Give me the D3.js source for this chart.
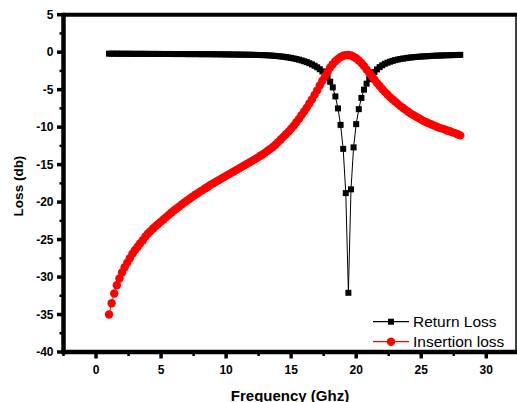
<!DOCTYPE html>
<html>
<head>
<meta charset="utf-8">
<script src="https://cdn.jsdelivr.net/npm/d3@7"></script>
<style>
    body { margin: 0; background: #fff; }
    text { font-family: Arial, "Liberation Sans", sans-serif; }
</style>
</head>
<body>
<svg width="517" height="402"></svg>
<script>
// Frequency points (GHz)
var freq = [
    1.0, 1.2, 1.4, 1.6, 1.8, 2.0, 2.2, 2.4, 2.6, 2.8,
    3.0, 3.2, 3.4, 3.6, 3.8, 4.0, 4.2, 4.4, 4.6, 4.8,
    5.0, 5.2, 5.4, 5.6, 5.8, 6.0, 6.2, 6.4, 6.6, 6.8,
    7.0, 7.2, 7.4, 7.6, 7.8, 8.0, 8.2, 8.4, 8.6, 8.8,
    9.0, 9.2, 9.4, 9.6, 9.8, 10.0, 10.2, 10.4, 10.6, 10.8,
    11.0, 11.2, 11.4, 11.6, 11.8, 12.0, 12.2, 12.4, 12.6, 12.8,
    13.0, 13.2, 13.4, 13.6, 13.8, 14.0, 14.2, 14.4, 14.6, 14.8,
    15.0, 15.2, 15.4, 15.6, 15.8, 16.0, 16.2, 16.4, 16.6, 16.8,
    17.0, 17.2, 17.4, 17.6, 17.8, 18.0, 18.2, 18.4, 18.6, 18.8,
    19.0, 19.2, 19.4, 19.6, 19.8, 20.0, 20.2, 20.4, 20.6, 20.8,
    21.0, 21.2, 21.4, 21.6, 21.8, 22.0, 22.2, 22.4, 22.6, 22.8,
    23.0, 23.2, 23.4, 23.6, 23.8, 24.0, 24.2, 24.4, 24.6, 24.8,
    25.0, 25.2, 25.4, 25.6, 25.8, 26.0, 26.2, 26.4, 26.6, 26.8,
    27.0, 27.2, 27.4, 27.6, 27.8, 28.0
];

var returnLoss = [
    -0.20, -0.20, -0.20, -0.20, -0.21, -0.21, -0.21, -0.21, -0.21, -0.22,
    -0.22, -0.22, -0.22, -0.22, -0.22, -0.23, -0.23, -0.23, -0.23, -0.23,
    -0.24, -0.24, -0.24, -0.24, -0.24, -0.25, -0.25, -0.25, -0.25, -0.25,
    -0.26, -0.26, -0.26, -0.26, -0.26, -0.27, -0.27, -0.27, -0.27, -0.27,
    -0.28, -0.28, -0.28, -0.29, -0.29, -0.30, -0.30, -0.31, -0.31, -0.32,
    -0.32, -0.33, -0.33, -0.34, -0.34, -0.35, -0.36, -0.37, -0.38, -0.39,
    -0.40, -0.42, -0.44, -0.47, -0.50, -0.53, -0.57, -0.61, -0.66, -0.71,
    -0.77, -0.84, -0.92, -1.00, -1.10, -1.21, -1.33, -1.47, -1.63, -1.81,
    -2.02, -2.27, -2.56, -2.95, -3.40, -3.95, -4.7, -5.9, -7.5, -9.7,
    -12.9, -18.8, -32.1, -18.3, -12.7, -9.6, -7.6, -6.1, -5.0, -4.2,
    -3.6, -3.1, -2.65, -2.3, -2.0, -1.75, -1.55, -1.4, -1.27, -1.16,
    -1.06, -0.98, -0.91, -0.85, -0.80, -0.75, -0.71, -0.67, -0.64, -0.61,
    -0.58, -0.56, -0.54, -0.52, -0.50, -0.48, -0.46, -0.45, -0.44, -0.42,
    -0.41, -0.40, -0.39, -0.38, -0.37, -0.36
];

var insertionLoss = [
    -35.0, -33.5, -32.2, -31.1, -30.2, -29.4, -28.7, -28.1, -27.5, -26.9,
    -26.4, -25.95, -25.5, -25.1, -24.6, -24.2, -23.85, -23.5, -23.2, -22.9,
    -22.6, -22.3, -22.0, -21.7, -21.4, -21.1, -20.85, -20.6, -20.3, -20.05,
    -19.8, -19.55, -19.3, -19.05, -18.85, -18.6, -18.4, -18.15, -17.95, -17.7,
    -17.5, -17.3, -17.1, -16.9, -16.7, -16.5, -16.3, -16.1, -15.9, -15.7,
    -15.5, -15.3, -15.1, -14.9, -14.7, -14.5, -14.3, -14.1, -13.85, -13.65,
    -13.4, -13.15, -12.9, -12.65, -12.35, -12.0, -11.65, -11.3, -10.95, -10.6,
    -10.2, -9.8, -9.35, -8.9, -8.4, -7.9, -7.4, -6.85, -6.3, -5.7,
    -5.1, -4.45, -3.8, -3.2, -2.6, -2.05, -1.6, -1.2, -0.9, -0.65,
    -0.48, -0.4, -0.38, -0.45, -0.6, -0.82, -1.1, -1.45, -1.85, -2.3,
    -2.75, -3.2, -3.65, -4.1, -4.5, -4.9, -5.3, -5.65, -6.0, -6.3,
    -6.6, -6.9, -7.2, -7.45, -7.7, -7.95, -8.2, -8.4, -8.6, -8.8,
    -9.0, -9.2, -9.35, -9.5, -9.65, -9.8, -9.95, -10.1, -10.2, -10.3,
    -10.45, -10.55, -10.7, -10.8, -10.95, -11.1
];

var xTicks = [0, 5, 10, 15, 20, 25, 30];
var yTicks = [5, 0, -5, -10, -15, -20, -25, -30, -35, -40];
var seriesNames = ["Return Loss", "Insertion loss"];

var svg = d3.select("svg");

var x = d3.scaleLinear().domain([-2.5, 32.5]).range([63.5, 518.8]);
var y = d3.scaleLinear().domain([-40, 5]).range([352, 14.7]);

var returnData = freq.map(function(f, i) { return { x: f, y: returnLoss[i] }; });
var insertData = freq.map(function(f, i) { return { x: f, y: insertionLoss[i] }; });

var line = d3.line()
    .x(function(d) { return x(d.x); })
    .y(function(d) { return y(d.y); });

// minor ticks
var xMinor = d3.range(-2.5, 32.5, 5);
var yMinor = d3.range(2.5, -40, -5);

// x axis ticks
svg.append("g")
    .selectAll("line")
    .data(xTicks)
    .enter()
    .append("line")
    .attr("x1", function(d) { return x(d); })
    .attr("x2", function(d) { return x(d); })
    .attr("y1", 352)
    .attr("y2", 358.5)
    .attr("stroke", "#000")
    .attr("stroke-width", 3.5);

svg.append("g")
    .selectAll("line")
    .data(xMinor)
    .enter()
    .append("line")
    .attr("x1", function(d) { return x(d); })
    .attr("x2", function(d) { return x(d); })
    .attr("y1", 352)
    .attr("y2", 356)
    .attr("stroke", "#000")
    .attr("stroke-width", 2.5);

svg.append("g")
    .selectAll("text")
    .data(xTicks)
    .enter()
    .append("text")
    .attr("x", function(d) { return x(d); })
    .attr("y", 373.5)
    .attr("text-anchor", "middle")
    .attr("font-size", "12px")
    .attr("font-weight", "bold")
    .text(function(d) { return d; });

// y axis ticks
svg.append("g")
    .selectAll("line")
    .data(yTicks)
    .enter()
    .append("line")
    .attr("x1", 57)
    .attr("x2", 63.5)
    .attr("y1", function(d) { return y(d); })
    .attr("y2", function(d) { return y(d); })
    .attr("stroke", "#000")
    .attr("stroke-width", 3.5);

svg.append("g")
    .selectAll("line")
    .data(yMinor)
    .enter()
    .append("line")
    .attr("x1", 59.5)
    .attr("x2", 63.5)
    .attr("y1", function(d) { return y(d); })
    .attr("y2", function(d) { return y(d); })
    .attr("stroke", "#000")
    .attr("stroke-width", 2.5);

svg.append("g")
    .selectAll("text")
    .data(yTicks)
    .enter()
    .append("text")
    .attr("x", 53.5)
    .attr("y", function(d) { return y(d) + 4.3; })
    .attr("text-anchor", "end")
    .attr("font-size", "12px")
    .attr("font-weight", "bold")
    .text(function(d) { return d; });

// frame
svg.append("line")
    .attr("x1", 63.5).attr("x2", 517)
    .attr("y1", 14.7).attr("y2", 14.7)
    .attr("stroke", "#000").attr("stroke-width", 4);
svg.append("line")
    .attr("x1", 516).attr("x2", 516)
    .attr("y1", 14.7).attr("y2", 352)
    .attr("stroke", "#000").attr("stroke-width", 1.5);
svg.append("line")
    .attr("x1", 63.5).attr("x2", 63.5)
    .attr("y1", 12.7).attr("y2", 354.2)
    .attr("stroke", "#000").attr("stroke-width", 4.5);
svg.append("line")
    .attr("x1", 61.5).attr("x2", 517)
    .attr("y1", 352).attr("y2", 352)
    .attr("stroke", "#000").attr("stroke-width", 4.3);

// return loss
svg.append("path")
    .datum(returnData)
    .attr("d", line)
    .attr("fill", "none")
    .attr("stroke", "#000")
    .attr("stroke-width", 1);

svg.append("g")
    .selectAll("rect")
    .data(returnData)
    .enter()
    .append("rect")
    .attr("x", function(d) { return x(d.x) - 3; })
    .attr("y", function(d) { return y(d.y) - 3; })
    .attr("width", 6)
    .attr("height", 6)
    .attr("fill", "#000");

// insertion loss
svg.append("path")
    .datum(insertData)
    .attr("d", line)
    .attr("fill", "none")
    .attr("stroke", "#f00")
    .attr("stroke-width", 1);

svg.append("g")
    .selectAll("circle")
    .data(insertData)
    .enter()
    .append("circle")
    .attr("cx", function(d) { return x(d.x); })
    .attr("cy", function(d) { return y(d.y); })
    .attr("r", 4.2)
    .attr("fill", "#f00");

// legend
var legend = svg.append("g")
    .selectAll("g")
    .data(seriesNames)
    .enter()
    .append("g")
    .attr("transform", function(d, i) { return "translate(373," + (321.7 + i * 20) + ")"; });

legend.append("line")
    .attr("x1", 0).attr("x2", 36)
    .attr("stroke", function(d, i) { return i === 0 ? "#000" : "#f00"; })
    .attr("stroke-width", 1.2);

legend.filter(function(d, i) { return i === 0; })
    .append("rect")
    .attr("x", 15).attr("y", -3)
    .attr("width", 6).attr("height", 6)
    .attr("fill", "#000");

legend.filter(function(d, i) { return i === 1; })
    .append("circle")
    .attr("cx", 18).attr("r", 4.2)
    .attr("fill", "#f00");

legend.append("text")
    .attr("x", 40)
    .attr("y", 5.5)
    .attr("font-size", "15.5px")
    .text(function(d) { return d; });

// axis titles
svg.append("text")
    .attr("x", 290)
    .attr("y", 400.5)
    .attr("text-anchor", "middle")
    .attr("font-size", "15px")
    .attr("font-weight", "bold")
    .text("Frequency (Ghz)");

svg.append("text")
    .attr("transform", "translate(22.5,186) rotate(-90)")
    .attr("text-anchor", "middle")
    .attr("font-size", "13.5px")
    .attr("font-weight", "bold")
    .text("Loss (db)");
</script>
</body>
</html>
